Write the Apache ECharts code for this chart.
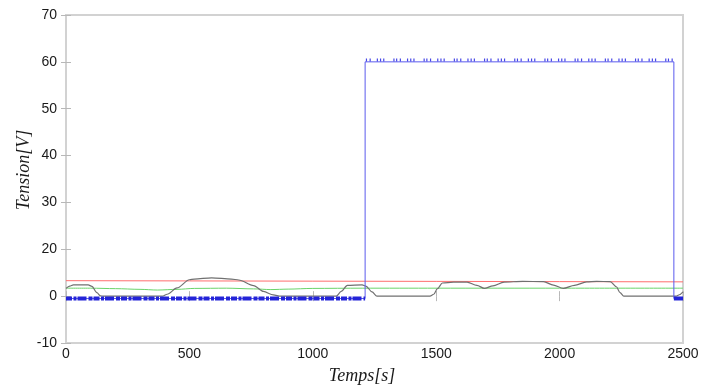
<!DOCTYPE html>
<html>
<head>
<meta charset="utf-8">
<script src="https://cdn.jsdelivr.net/npm/echarts@6/dist/echarts.min.js"></script>
<style>html,body{margin:0;padding:0;background:#fff}#c{width:713px;height:385px}</style>
</head>
<body>
<div id="c"></div>
<script>
// Y tick labels as printed on the reference (evenly spaced; "10" is absent)
const yTickLabels = [-10, 0, 20, 30, 40, 50, 60, 70];
const xTickValues = [0, 500, 1000, 1500, 2000, 2500];

// Values: [time s, tension V]
const redPts = [[0,6.6],[500,6.5],[1000,6.4],[1500,6.3],[2000,6.2],[2500,6.1]];
const greenPts = [[0,3.4],[100,3.4],[200,3.2],[300,2.9],[370,2.6],[450,2.9],[520,3.3],[650,3.4],[760,3.1],[830,2.8],[900,3.0],[1000,3.3],[1200,3.4],[1500,3.4],[2000,3.4],[2500,3.4]];
const grayPts = [[0,3.3],[15,4.3],[30,4.8],[90,4.8],[105,4.2],[125,1.5],[140,0.1],[150,0],[390,0],[410,0.8],[450,3.5],[500,7.0],[520,7.3],[590,7.8],[670,7.3],[700,6.9],[760,4.5],[800,2.0],[840,0.5],[870,0],[1095,0],[1115,2.0],[1140,4.6],[1200,4.8],[1215,4.3],[1240,1.8],[1260,0],[1475,0],[1490,0.8],[1505,3.2],[1525,5.6],[1570,6.0],[1625,6.0],[1665,4.6],[1695,3.3],[1730,4.4],[1775,6.0],[1850,6.3],[1935,6.2],[1975,4.7],[2015,3.3],[2060,4.6],[2110,6.1],[2150,6.3],[2205,6.2],[2230,4.0],[2245,1.5],[2260,0],[2472,0],[2485,0.6],[2500,1.8]];
const bluePts = [[0,-0.5],[1212,-0.5],[1212,60],[2463,60],[2463,-0.5],[2500,-0.5]];
const blueLowBand1 = [[0,-0.5],[1212,-0.5]];
const blueLowBand2 = [[2463,-0.5],[2500,-0.5]];
const blueHighNoise = [[1215,60.4],[2460,60.4]];

// piecewise-linear mapping of a tension value onto the evenly spaced printed ticks
function toAxis(v){
  const L = yTickLabels;
  let i = 0;
  while (i < L.length - 2 && v > L[i+1]) i++;
  return -10 + 10 * (i + (v - L[i]) / (L[i+1] - L[i]));
}
const conv = pts => pts.map(p => [p[0], toAxis(p[1])]);

const chart = echarts.init(document.getElementById('c'), null, {renderer:'canvas'});
const tickStyle = {show:true, inside:true, length:5, lineStyle:{color:'#b8b8b8', width:1}};
const lblFont = {color:'#1a1a1a', fontSize:14, fontFamily:'Liberation Sans, Arial, sans-serif'};
chart.setOption({
  animation:false,
  backgroundColor:'#fff',
  grid:{left:66, right:30, top:15, bottom:42, show:true, borderColor:'#d2d2d2', borderWidth:2, backgroundColor:'#fff'},
  xAxis:[
    {type:'value', min:xTickValues[0], max:xTickValues[xTickValues.length-1], interval:500, axisLine:{show:false}, axisTick:tickStyle, splitLine:{show:false},
     axisLabel:Object.assign({margin:4, formatter:v => String(v)}, lblFont)},
    {type:'value', position:'top', min:0, max:2500, interval:500, axisLine:{show:false}, axisTick:tickStyle, splitLine:{show:false}, axisLabel:{show:false}}
  ],
  yAxis:[
    {type:'value', min:-10, max:60, interval:10, axisLine:{show:false}, axisTick:tickStyle, splitLine:{show:false},
     axisLabel:Object.assign({margin:9, formatter:v => String(yTickLabels[Math.round((v+10)/10)])}, lblFont)},
    {type:'value', position:'right', min:-10, max:60, interval:10, axisLine:{show:false}, axisTick:tickStyle, splitLine:{show:false}, axisLabel:{show:false}}
  ],
  graphic:[
    {type:'text', x:362, y:376, style:{text:'Temps[s]', font:'italic 18px "Liberation Serif", "Times New Roman", serif', fill:'#1a1a1a', align:'center', verticalAlign:'middle'}},
    {type:'text', x:24, y:170, rotation:Math.PI/2, style:{text:'Tension[V]', font:'italic 18px "Liberation Serif", "Times New Roman", serif', fill:'#1a1a1a', align:'center', verticalAlign:'middle'}}
  ],
  series:[
    {type:'line', name:'red', data:conv(redPts), showSymbol:false, lineStyle:{color:'#ff6e6e', width:1}, z:2},
    {type:'line', name:'green', data:conv(greenPts), showSymbol:false, smooth:0.3, smoothMonotone:'x', lineStyle:{color:'#6ad46a', width:1}, z:2},
    {type:'line', name:'gray', data:conv(grayPts), showSymbol:false, smooth:0.3, smoothMonotone:'x', lineStyle:{color:'#707070', width:1.2}, z:3},
    {type:'line', name:'blue', data:conv(bluePts), showSymbol:false, lineStyle:{color:'#5a5aee', width:1}, z:4},
    {type:'line', name:'blueLow1', data:conv(blueLowBand1), showSymbol:false, lineStyle:{color:'#2424d8', width:4, type:[6,1.5,3,1,9,2,4,1]}, z:5},
    {type:'line', name:'blueLow2', data:conv(blueLowBand2), showSymbol:false, lineStyle:{color:'#2424d8', width:4}, z:5},
    {type:'line', name:'blueHigh', data:conv(blueHighNoise), showSymbol:false, lineStyle:{color:'#4646e6', width:3, type:[1.2,2.5,1.2,6,1.2,2,1.2,2,1.2,9,1.2,1.5]}, z:5}
  ]
});
</script>
</body>
</html>
